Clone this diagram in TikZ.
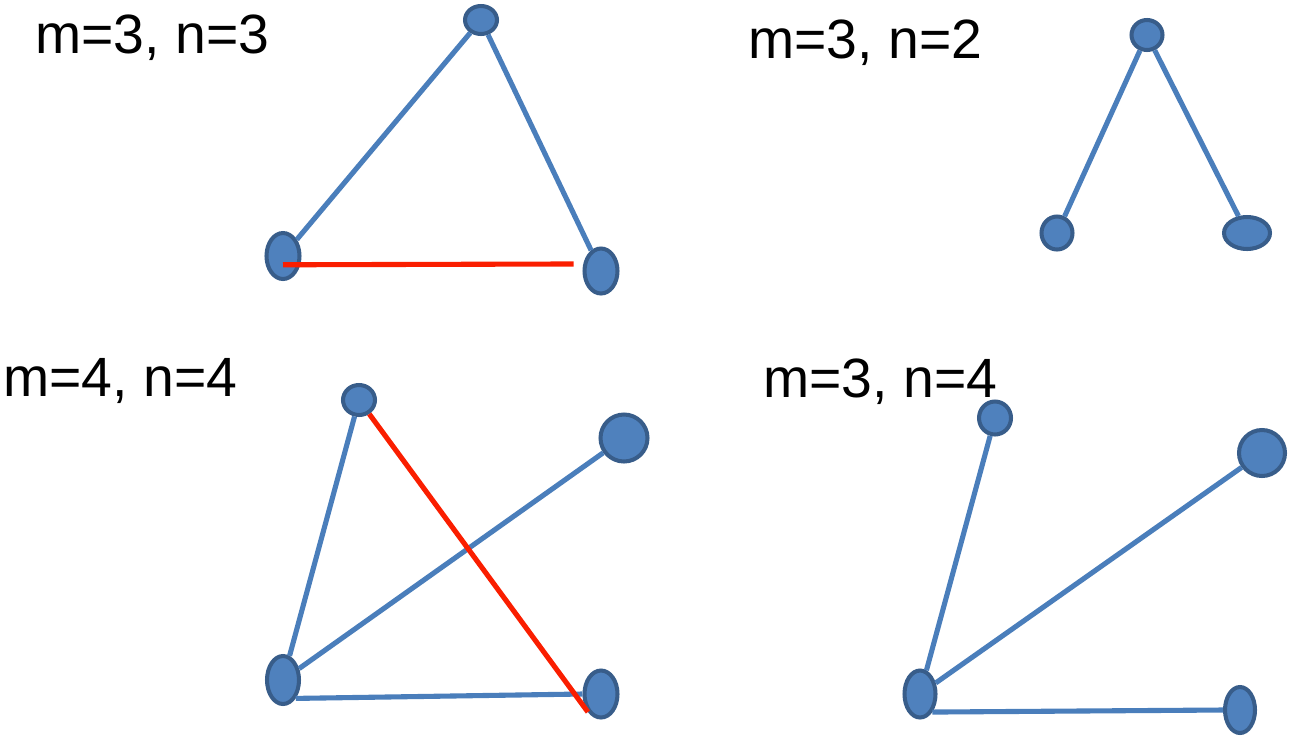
\documentclass[tikz,border=0pt]{standalone}
\usepackage{fontspec}
\setmainfont{Liberation Sans}
\usetikzlibrary{shapes.geometric}

\definecolor{vfill}{RGB}{79,129,189}
\definecolor{vborder}{RGB}{56,93,138}
\definecolor{eblue}{RGB}{74,126,187}
\definecolor{ered}{RGB}{250,30,0}

\def\px{0.02cm}

\begin{document}
\begin{tikzpicture}[x=\px, y=-\px,
  vtx/.style={ellipse, draw=vborder, fill=vfill, line width=2.3pt, inner sep=0pt},
  bedge/.style={draw=eblue, line width=2.9pt},
  redge/.style={draw=ered, line width=2.9pt},
  lbl/.style={anchor=base west, inner sep=0pt, font=\fontsize{31.5pt}{38pt}\selectfont}]
\useasboundingbox (0,0) rectangle (1301,745);

% m=3, n=3
\node[lbl] (t1) at (35,53) {m=3, n=3};
\node[vtx, minimum width=32*\px, minimum height=28*\px] (A) at (481,20) {};
\node[vtx, minimum width=33*\px, minimum height=46*\px] (B) at (283,256) {};
\node[vtx, minimum width=33*\px, minimum height=45*\px] (C) at (601,271) {};
\draw[bedge] (A) -- (B);
\draw[bedge] (A) -- (C);
\draw[redge] ([yshift=-5pt]B.center) -- ([shift={(-5pt,4pt)}]C.west);

% m=3, n=2
\node[lbl] (t2) at (748,58) {m=3, n=2};
\node[vtx, minimum width=31*\px, minimum height=30*\px] (D) at (1147,35) {};
\node[vtx, minimum width=31*\px, minimum height=33*\px] (E) at (1057,233) {};
\node[vtx, minimum width=46*\px, minimum height=32*\px] (F) at (1247,233) {};
\draw[bedge] (D) -- (E);
\draw[bedge] (D) -- (F);

% m=4, n=4
\node[lbl] (t3) at (3,396) {m=4, n=4};
\node[vtx, minimum width=32*\px, minimum height=30*\px] (G) at (359,400) {};
\node[vtx, minimum width=47*\px, minimum height=47*\px] (H) at (624,438) {};
\node[vtx, minimum width=32*\px, minimum height=48*\px] (I) at (283,680) {};
\node[vtx, minimum width=33*\px, minimum height=47*\px] (J) at (601,694) {};
\draw[bedge] (I) -- (G);
\draw[bedge] (I) -- (H);
\draw[bedge] (I.south east) -- (J.west);
\draw[redge] (G) -- (J.south west);

% m=3, n=4
\node[lbl] (t4) at (763,397) {m=3, n=4};
\node[vtx, minimum width=32*\px, minimum height=33*\px] (K) at (995,418) {};
\node[vtx, minimum width=46*\px, minimum height=46*\px] (L) at (1262,453) {};
\node[vtx, minimum width=31*\px, minimum height=47*\px] (M) at (920,694) {};
\node[vtx, minimum width=30*\px, minimum height=46*\px] (N) at (1240,710) {};
\draw[bedge] (M) -- (K);
\draw[bedge] (M) -- (L);
\draw[bedge] (M.south east) -- (N.west);
\end{tikzpicture}
\end{document}
